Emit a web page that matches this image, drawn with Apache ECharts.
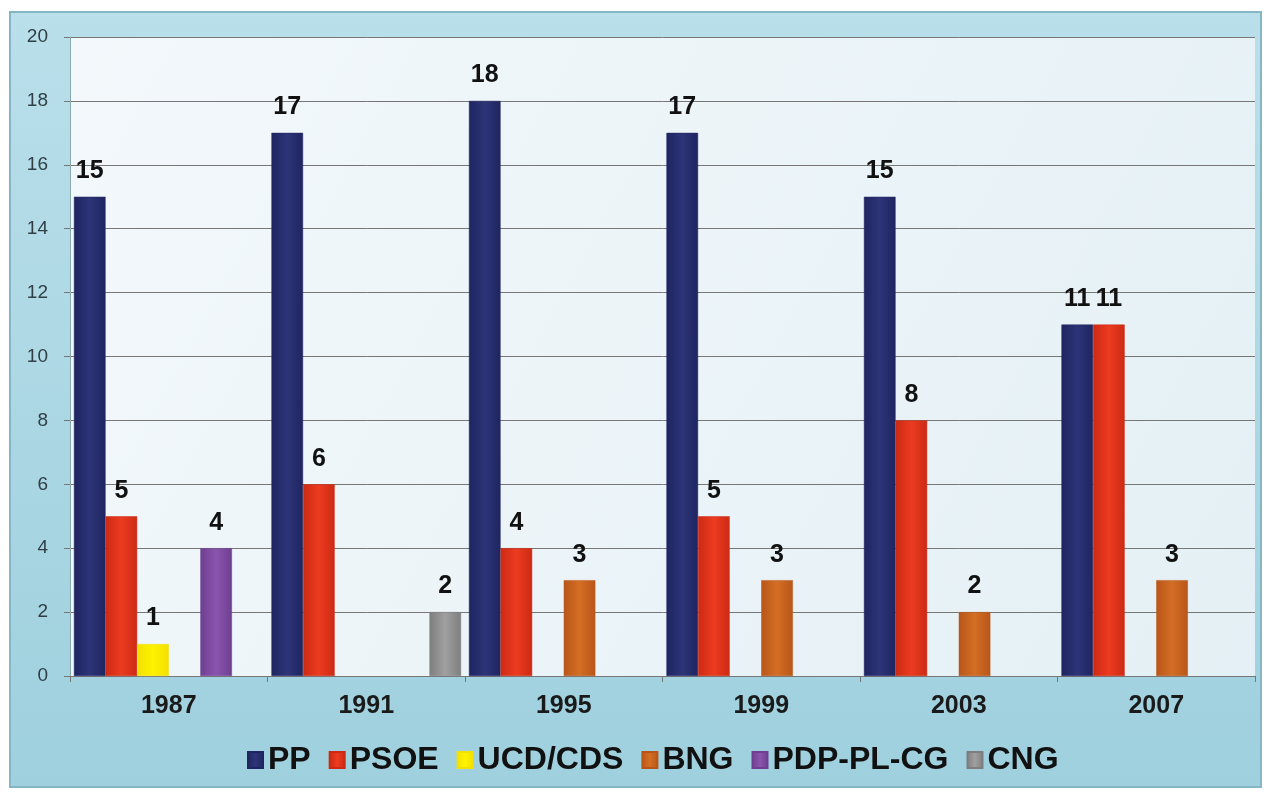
<!DOCTYPE html>
<html><head><meta charset="utf-8">
<script src="https://cdn.jsdelivr.net/npm/echarts@6/dist/echarts.min.js"></script>
<style>html,body{margin:0;padding:0;background:#fff}#c{width:1268px;height:792px}</style>
</head><body><div id="c"></div>
<script>
const categories = ['1987','1991','1995','1999','2003','2007'];
const seriesNames = ['PP','PSOE','UCD/CDS','BNG','PDP-PL-CG','CNG'];
const PP = [15,17,18,17,15,11];
const PSOE = [5,6,4,5,8,11];
const UCD_CDS = [1,null,null,null,null,null];
const BNG = [null,null,3,3,2,3];
const PDP_PL_CG = [4,null,null,null,null,null];
const CNG = [null,2,null,null,null,null];
const yTicks = [0,2,4,6,8,10,12,14,16,18,20];

const colors = [
  ['#1f2560','#2d3478','#1f2560'],
  ['#cc2a14','#ec3b20','#cc2a14'],
  ['#f2e000','#fff200','#f2e000'],
  ['#b8561a','#d46e24','#b8561a'],
  ['#6e3f90','#8a55ae','#6e3f90'],
  ['#7e7e7e','#a0a0a0','#7e7e7e']
];
const flat = ['#262b66','#e3321c','#ffee00','#c8641c','#7a4a9c','#8c8c8c'];
const allData = [PP,PSOE,UCD_CDS,BNG,PDP_PL_CG,CNG];

const chart = echarts.init(document.getElementById('c'));
chart.setOption({
  backgroundColor: '#ffffff',
  animation: false,
  graphic: [{
    type: 'rect', z: -10,
    shape: {x: 10, y: 12, width: 1251, height: 775},
    style: {
      fill: new echarts.graphic.LinearGradient(0,0,0,1,[{offset:0,color:'#b9dfea'},{offset:1,color:'#9fd0de'}]),
      stroke: '#86b6c4', lineWidth: 2
    }
  }],
  grid: {left: 70, right: 13, top: 37, bottom: 116, show: true,
    backgroundColor: new echarts.graphic.LinearGradient(0,0,1,1,[{offset:0,color:'#f3f8fb'},{offset:1,color:'#e4f0f5'}]),
    borderWidth: 0},
  legend: {
    bottom: 11, left: 242,
    itemWidth: 15, itemHeight: 16, itemGap: 18, icon: 'rect',
    textStyle: {fontFamily: 'Liberation Sans, Arial', fontWeight: 'bold', fontSize: 32, color: '#111'},
    data: seriesNames
  },
  xAxis: {
    type: 'category', data: categories,
    axisLine: {lineStyle: {color: '#777'}},
    axisTick: {show: true, length: 6, lineStyle: {color: '#777'}},
    axisLabel: {fontFamily: 'Liberation Sans, Arial', fontWeight: 'bold', fontSize: 25, color: '#1a1a1a', margin: 18}
  },
  yAxis: {
    type: 'value', min: 0, max: 20, interval: 2,
    axisLine: {show: true, lineStyle: {color: '#8aa'}},
    axisTick: {show: true, length: 6, lineStyle: {color: '#777'}},
    splitLine: {lineStyle: {color: '#777', width: 1}},
    axisLabel: {fontFamily: 'Liberation Sans, Arial', fontSize: 19, color: '#2f3f44', margin: 22}
  },
  series: seriesNames.map((n, i) => ({
    name: n, type: 'bar', data: allData[i],
    barGap: '0%', barCategoryGap: '4%',
    itemStyle: {
      color: new echarts.graphic.LinearGradient(0,0,1,0,[
        {offset:0,color:colors[i][0]},{offset:0.5,color:colors[i][1]},{offset:1,color:colors[i][2]}]),
      borderColor: colors[i][0], borderWidth: 0.5
    },
    label: {show: true, position: 'top', distance: 13,
      fontFamily: 'Liberation Sans, Arial', fontWeight: 'bold', fontSize: 25, color: '#111'}
  })),
  color: flat
});
</script></body></html>
